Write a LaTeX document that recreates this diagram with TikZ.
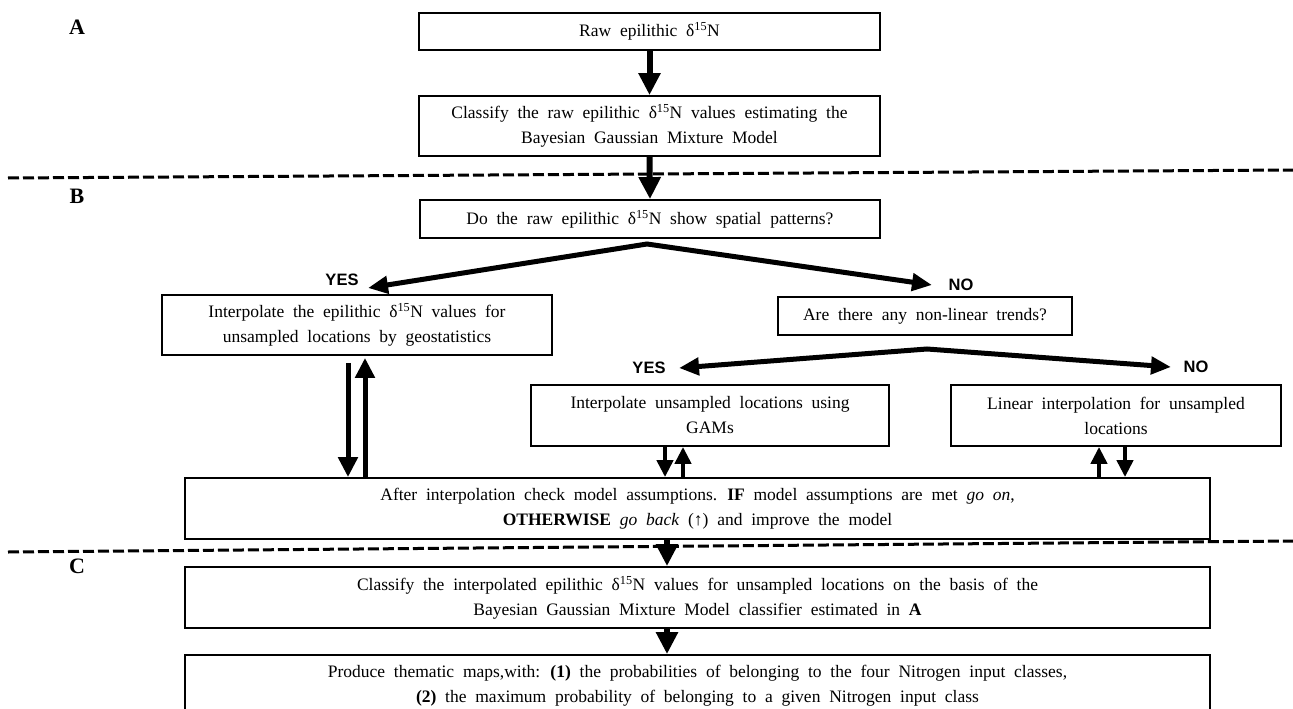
\documentclass[tikz,border=0pt]{standalone}
\usepackage{fontspec}
\setmainfont{Liberation Serif}[WordSpace=2]
\newfontfamily\lsans{Liberation Sans}
\usetikzlibrary{arrows.meta}
\begin{document}
\begin{tikzpicture}[x=1pt,y=-1pt,
  box/.style={draw, line width=1.8pt, inner sep=0pt, align=center,
    font=\fontsize{17.5}{25}\selectfont},
  sec/.style={font=\bfseries\fontsize{22}{26}\selectfont},
  lab/.style={font=\lsans\bfseries\fontsize{16.5}{20}\selectfont},
  bigarr/.style={line width=6pt, -{Triangle[width=21pt,length=22pt]}},
  longarr/.style={line width=5pt, -{Triangle[width=19pt,length=20pt]}},
  smallarr/.style={line width=4.5pt, -{Triangle[width=16pt,length=17pt]}},
  brarr/.style={line width=5pt, line join=miter,
    {Triangle[width=17pt,length=20pt]}-{Triangle[width=17pt,length=20pt]}},
  sepline/.style={line width=3pt, dash pattern=on 11pt off 4pt}]
\useasboundingbox (0,0) rectangle (1293,709);

% section labels
\node[sec] (lA) at (77,27) {A};
\node[sec] (lB) at (77,196) {B};
\node[sec] (lC) at (77,566) {C};

% separators
\draw[sepline] (8,178) -- (1293,170);
\draw[sepline] (8,552) -- (1293,541);

% boxes
\node[box, minimum width=461pt, minimum height=37pt] (b1) at (649.5,31.5)
  {Raw epilithic δ\textsuperscript{15}N};
\node[box, minimum width=461pt, minimum height=60pt] (b2) at (649.5,126)
  {Classify the raw epilithic δ\textsuperscript{15}N values estimating the\\Bayesian Gaussian Mixture Model};
\node[box, minimum width=460pt, minimum height=38pt] (b3) at (650,219)
  {Do the raw epilithic δ\textsuperscript{15}N show spatial patterns?};
\node[box, minimum width=390pt, minimum height=60pt] (b4) at (357,325)
  {Interpolate the epilithic δ\textsuperscript{15}N values for\\unsampled locations by geostatistics};
\node[box, minimum width=294pt, minimum height=38pt] (b5) at (925,316)
  {Are there any non-linear trends?};
\node[box, minimum width=358pt, minimum height=61pt] (b6) at (710,415.5)
  {Interpolate unsampled locations using\\GAMs};
\node[box, minimum width=330pt, minimum height=61pt] (b7) at (1116,415.5)
  {Linear interpolation for unsampled\\locations};
\node[box, minimum width=1025pt, minimum height=61pt] (b8) at (697.5,508.5)
  {After interpolation check model assumptions. \textbf{IF} model assumptions are met \textit{go on},\\\textbf{OTHERWISE} \textit{go back} (↑) and improve the model};
\node[box, minimum width=1025pt, minimum height=61pt] (b9) at (697.5,597.5)
  {Classify the interpolated epilithic δ\textsuperscript{15}N values for unsampled locations on the basis of the\\Bayesian Gaussian Mixture Model classifier estimated in \textbf{A}};
\node[box, minimum width=1025pt, minimum height=61pt] (b10) at (697.5,685.5)
  {Produce thematic maps,with: \textbf{(1)} the probabilities of belonging to the four Nitrogen input classes,\\\textbf{(2)} the maximum probability of belonging to a given Nitrogen input class};

% branch labels
\node[lab] (yes1) at (342,280) {YES};
\node[lab] (no1) at (961,285) {NO};
\node[lab] (yes2) at (649,368) {YES};
\node[lab] (no2) at (1196,367) {NO};

% branch points
\coordinate (ap1) at (647,244);
\coordinate (ty1) at (368,288);
\coordinate (tn1) at (932,285);
\coordinate (ap2) at (927,349);
\coordinate (ty2) at (679,368);
\coordinate (tn2) at (1171,367);
\draw[brarr] (ty1) -- (ap1) -- (tn1);
\draw[brarr] (ty2) -- (ap2) -- (tn2);

% vertical arrows
\draw[bigarr] (b1.south) -- (b2.north);
\draw[bigarr] (b2.south) -- (b3.north);

\coordinate (xa) at (348,0);
\coordinate (xb) at (365,0);
\coordinate (xg1) at (665,0);
\coordinate (xg2) at (683,0);
\coordinate (xl1) at (1099,0);
\coordinate (xl2) at (1125,0);
\coordinate (xm) at (667,0);

\draw[longarr, shorten <=7pt] (xa |- b4.south) -- (xa |- b8.north);
\draw[longarr, shorten >=2pt] (xb |- b8.north) -- (xb |- b4.south);
\draw[smallarr] (xg1 |- b6.south) -- (xg1 |- b8.north);
\draw[smallarr] (xg2 |- b8.north) -- (xg2 |- b6.south);
\draw[smallarr] (xl1 |- b8.north) -- (xl1 |- b7.south);
\draw[smallarr] (xl2 |- b7.south) -- (xl2 |- b8.north);
\draw[bigarr] (xm |- b8.south) -- (xm |- b9.north);
\draw[bigarr] (xm |- b9.south) -- (xm |- b10.north);
\end{tikzpicture}
\end{document}
